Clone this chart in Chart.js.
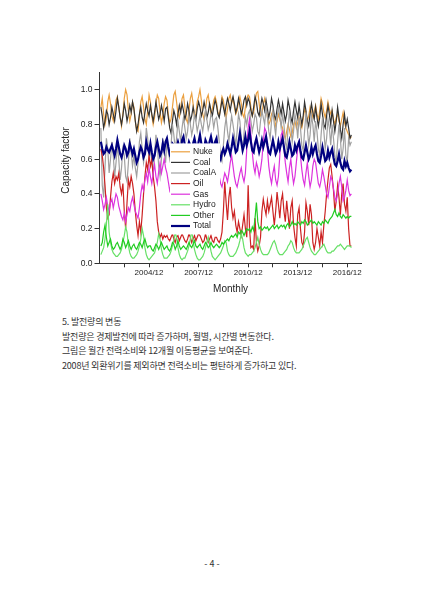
<!DOCTYPE html>
<html>
<head>
<meta charset="utf-8">
<script src="https://cdn.jsdelivr.net/npm/chart.js@4.4.0/dist/chart.umd.min.js"></script>
<style>
html, body { margin: 0; padding: 0; background: #fff; }
body { width: 424px; height: 599px; position: relative; overflow: hidden; }
#wrap { position: absolute; left: 0; top: 0; width: 424px; height: 305px; }
.txt { position: absolute; left: 62px; font-family: "Noto Sans CJK KR", sans-serif; font-size: 9px; letter-spacing: -0.2px; color: #333; white-space: nowrap; line-height: 12px; }
#pageNo { left: 0; width: 424px; text-align: center; letter-spacing: 0; }
</style>
</head>
<body>
<div id="wrap"><canvas id="cfChart"></canvas></div>
<div class="txt" style="top:316px">5. 발전량의 변동</div>
<div class="txt" style="top:330.5px">발전량은 경제발전에 따라 증가하며, 월별, 시간별 변동한다.</div>
<div class="txt" style="top:345px">그림은 월간 전력소비와 12개월 이동평균을 보여준다.</div>
<div class="txt" style="top:359.5px">2008년 외환위기를 제외하면 전력소비는 평탄하게 증가하고 있다.</div>
<div class="txt" id="pageNo" style="top:558px">- 4 -</div>

<script>
// Data (monthly, 2002/01 .. 2017/03)
const firstMonth = '2002/01';
const seriesNames = ['Nuke', 'Coal', 'CoalA', 'Oil', 'Gas', 'Hydro', 'Other', 'Total'];
const tickLabels = ['2004/12', '2007/12', '2010/12', '2013/12', '2016/12'];
const minorTickLabels = ['2003/06', '2006/06', '2009/06', '2012/06', '2015/06'];
const yTickValues = [0, 0.2, 0.4, 0.6, 0.8, 1.0];

const nuke = [
  0.90,0.95,0.86,0.80,0.84,0.93,0.97,0.92,0.85,0.82,0.88,0.94,
  0.96,0.90,0.84,0.79,0.86,0.95,1.00,0.97,0.88,0.82,0.86,0.93,
  0.90,0.82,0.77,0.76,0.85,0.93,0.96,0.90,0.83,0.80,0.88,0.97,
  0.93,0.85,0.80,0.84,0.92,0.97,0.95,0.87,0.81,0.85,0.92,0.96,
  0.94,0.86,0.81,0.83,0.90,0.97,0.99,0.93,0.86,0.84,0.90,0.95,
  0.97,0.90,0.83,0.81,0.88,0.95,0.98,0.92,0.84,0.86,0.93,0.96,
  1.00,0.94,0.86,0.83,0.88,0.95,0.97,0.91,0.86,0.89,0.94,0.96,
  0.93,0.87,0.85,0.90,0.96,0.94,0.88,0.84,0.89,0.95,0.97,0.92,
  0.95,0.90,0.86,0.88,0.93,0.96,0.92,0.86,0.84,0.90,0.95,0.97,
  0.96,0.90,0.85,0.87,0.93,0.98,0.99,0.92,0.85,0.86,0.92,0.95,
  0.90,0.84,0.80,0.82,0.86,0.88,0.84,0.79,0.82,0.86,0.83,0.80,
  0.78,0.74,0.72,0.76,0.80,0.77,0.73,0.75,0.80,0.82,0.78,0.81,
  0.84,0.80,0.78,0.83,0.89,0.86,0.82,0.85,0.90,0.87,0.84,0.88,
  0.91,0.86,0.83,0.88,0.95,0.92,0.87,0.84,0.88,0.93,0.89,0.86,
  0.88,0.83,0.80,0.84,0.86,0.82,0.79,0.83,0.87,0.81,0.78,0.76,
  0.74,0.72,0.73
];

const coal = [
  0.90,0.85,0.78,0.82,0.88,0.86,0.80,0.84,0.90,0.86,0.82,0.88,
  0.95,0.90,0.84,0.80,0.85,0.92,0.88,0.82,0.86,0.91,0.87,0.93,
  0.89,0.82,0.76,0.80,0.86,0.90,0.84,0.81,0.87,0.92,0.88,0.85,
  0.91,0.86,0.82,0.87,0.93,0.88,0.83,0.86,0.91,0.87,0.82,0.89,
  0.90,0.84,0.78,0.75,0.82,0.88,0.85,0.80,0.86,0.91,0.87,0.92,
  0.88,0.83,0.86,0.92,0.88,0.82,0.85,0.90,0.86,0.83,0.89,0.93,
  0.90,0.85,0.88,0.93,0.89,0.84,0.87,0.92,0.88,0.85,0.90,0.94,
  0.91,0.86,0.84,0.89,0.94,0.90,0.86,0.91,0.95,0.92,0.88,0.93,
  0.96,0.92,0.87,0.90,0.95,0.91,0.86,0.89,0.94,0.96,0.91,0.95,
  0.93,0.88,0.85,0.90,0.96,0.93,0.87,0.85,0.90,0.95,0.92,0.88,
  0.94,0.89,0.84,0.88,0.95,0.91,0.85,0.83,0.89,0.94,0.90,0.86,
  0.92,0.87,0.82,0.86,0.94,0.90,0.84,0.81,0.88,0.93,0.88,0.84,
  0.91,0.85,0.80,0.85,0.93,0.88,0.82,0.79,0.86,0.92,0.87,0.83,
  0.90,0.84,0.79,0.84,0.92,0.86,0.80,0.78,0.85,0.91,0.86,0.80,
  0.88,0.82,0.76,0.82,0.90,0.84,0.77,0.72,0.80,0.86,0.79,0.83,
  0.78,0.72,0.74
];

const coalA = [
  0.78,0.45,0.38,0.55,0.72,0.66,0.52,0.60,0.70,0.62,0.50,0.58,
  0.68,0.60,0.48,0.55,0.66,0.62,0.50,0.47,0.58,0.72,0.64,0.56,
  0.62,0.55,0.50,0.58,0.70,0.75,0.66,0.58,0.64,0.78,0.72,0.60,
  0.66,0.58,0.52,0.62,0.74,0.68,0.56,0.50,0.60,0.72,0.66,0.58,
  0.70,0.64,0.60,0.68,0.80,0.74,0.66,0.72,0.82,0.76,0.70,0.78,
  0.84,0.78,0.72,0.76,0.85,0.80,0.74,0.78,0.86,0.82,0.76,0.80,
  0.85,0.80,0.76,0.82,0.88,0.83,0.77,0.80,0.86,0.84,0.78,0.83,
  0.84,0.78,0.70,0.62,0.59,0.68,0.78,0.84,0.76,0.70,0.78,0.85,
  0.80,0.74,0.68,0.76,0.86,0.82,0.72,0.66,0.75,0.84,0.80,0.86,
  0.88,0.82,0.76,0.80,0.86,0.84,0.76,0.74,0.82,0.88,0.84,0.80,
  0.90,0.84,0.76,0.72,0.82,0.88,0.80,0.74,0.84,0.90,0.85,0.78,
  0.86,0.80,0.70,0.66,0.78,0.88,0.80,0.70,0.76,0.86,0.82,0.72,
  0.84,0.78,0.68,0.65,0.76,0.87,0.78,0.68,0.74,0.85,0.80,0.70,
  0.82,0.76,0.66,0.62,0.74,0.84,0.76,0.66,0.72,0.83,0.78,0.68,
  0.80,0.72,0.62,0.58,0.70,0.80,0.72,0.60,0.66,0.78,0.62,0.58,
  0.72,0.68,0.70
];

const oil = [
  0.66,0.62,0.55,0.45,0.32,0.26,0.28,0.38,0.47,0.52,0.46,0.50,
  0.48,0.52,0.44,0.40,0.46,0.30,0.20,0.35,0.48,0.44,0.50,0.46,
  0.40,0.30,0.22,0.16,0.24,0.18,0.28,0.40,0.50,0.58,0.54,0.62,
  0.56,0.60,0.50,0.44,0.36,0.24,0.18,0.15,0.17,0.14,0.16,0.15,
  0.16,0.14,0.13,0.15,0.17,0.14,0.12,0.15,0.16,0.13,0.15,0.17,
  0.15,0.13,0.12,0.14,0.17,0.15,0.12,0.14,0.16,0.13,0.15,0.17,
  0.16,0.14,0.12,0.13,0.17,0.14,0.12,0.14,0.16,0.13,0.12,0.15,
  0.15,0.13,0.12,0.14,0.18,0.30,0.47,0.35,0.25,0.38,0.44,0.32,
  0.26,0.30,0.22,0.18,0.24,0.20,0.16,0.22,0.28,0.20,0.15,0.45,
  0.20,0.09,0.10,0.08,0.26,0.12,0.07,0.10,0.15,0.30,0.37,0.32,
  0.28,0.36,0.30,0.34,0.38,0.30,0.22,0.30,0.41,0.34,0.26,0.36,
  0.40,0.30,0.24,0.36,0.28,0.20,0.32,0.36,0.22,0.15,0.10,0.28,
  0.32,0.20,0.12,0.10,0.18,0.35,0.30,0.22,0.34,0.28,0.12,0.08,
  0.12,0.20,0.15,0.10,0.18,0.12,0.22,0.30,0.40,0.48,0.55,0.57,
  0.50,0.42,0.30,0.36,0.45,0.38,0.28,0.40,0.46,0.34,0.30,0.38,
  0.20,0.10,0.10
];

const gas = [
  0.40,0.36,0.31,0.34,0.38,0.33,0.30,0.35,0.37,0.32,0.36,0.40,
  0.38,0.33,0.30,0.27,0.25,0.29,0.24,0.28,0.32,0.30,0.35,0.38,
  0.34,0.30,0.28,0.26,0.32,0.40,0.45,0.42,0.48,0.52,0.47,0.55,
  0.50,0.46,0.52,0.57,0.50,0.46,0.53,0.58,0.52,0.56,0.60,0.55,
  0.52,0.47,0.42,0.45,0.52,0.56,0.50,0.46,0.50,0.55,0.48,0.52,
  0.55,0.50,0.45,0.48,0.56,0.60,0.54,0.48,0.52,0.58,0.52,0.56,
  0.58,0.52,0.47,0.50,0.57,0.62,0.56,0.50,0.54,0.60,0.54,0.58,
  0.58,0.54,0.50,0.46,0.44,0.48,0.52,0.50,0.47,0.52,0.58,0.62,
  0.56,0.50,0.46,0.44,0.48,0.52,0.55,0.50,0.47,0.52,0.66,0.78,
  0.83,0.74,0.64,0.56,0.52,0.58,0.55,0.50,0.54,0.60,0.70,0.78,
  0.76,0.66,0.56,0.50,0.46,0.52,0.56,0.48,0.45,0.50,0.62,0.74,
  0.76,0.66,0.58,0.52,0.47,0.55,0.60,0.52,0.46,0.50,0.58,0.66,
  0.70,0.62,0.54,0.48,0.45,0.52,0.58,0.50,0.44,0.48,0.56,0.60,
  0.58,0.52,0.46,0.44,0.48,0.54,0.50,0.45,0.40,0.38,0.44,0.50,
  0.48,0.43,0.38,0.36,0.40,0.46,0.50,0.44,0.36,0.38,0.42,0.48,
  0.42,0.39,0.40
];

const hydro = [
  0.05,0.07,0.09,0.14,0.22,0.34,0.18,0.12,0.08,0.06,0.05,0.04,
  0.04,0.05,0.06,0.08,0.12,0.16,0.21,0.18,0.10,0.06,0.04,0.03,
  0.03,0.04,0.05,0.07,0.10,0.14,0.20,0.16,0.09,0.05,0.03,0.02,
  0.03,0.04,0.05,0.06,0.09,0.12,0.17,0.14,0.08,0.05,0.03,0.03,
  0.03,0.04,0.05,0.07,0.10,0.13,0.18,0.15,0.09,0.05,0.03,0.02,
  0.03,0.03,0.05,0.07,0.10,0.14,0.19,0.13,0.08,0.05,0.03,0.02,
  0.02,0.03,0.04,0.06,0.09,0.12,0.15,0.11,0.07,0.04,0.03,0.02,
  0.03,0.04,0.05,0.06,0.08,0.10,0.13,0.12,0.07,0.05,0.04,0.04,
  0.04,0.05,0.06,0.08,0.10,0.13,0.17,0.14,0.09,0.06,0.05,0.04,
  0.05,0.05,0.06,0.07,0.09,0.12,0.15,0.11,0.08,0.06,0.05,0.05,
  0.05,0.05,0.06,0.08,0.10,0.12,0.13,0.11,0.08,0.06,0.05,0.05,
  0.05,0.06,0.07,0.08,0.10,0.11,0.13,0.12,0.09,0.07,0.06,0.06,
  0.06,0.07,0.08,0.10,0.12,0.14,0.15,0.12,0.09,0.07,0.06,0.05,
  0.05,0.06,0.07,0.08,0.09,0.10,0.11,0.09,0.07,0.06,0.06,0.06,
  0.07,0.07,0.08,0.09,0.10,0.10,0.11,0.10,0.09,0.08,0.09,0.10,
  0.10,0.10,0.09
];

const other = [
  0.10,0.12,0.18,0.22,0.15,0.10,0.12,0.14,0.10,0.08,0.09,0.11,
  0.12,0.10,0.08,0.10,0.14,0.12,0.09,0.11,0.13,0.10,0.08,0.10,
  0.11,0.09,0.08,0.10,0.12,0.11,0.09,0.12,0.14,0.11,0.09,0.10,
  0.10,0.08,0.07,0.09,0.11,0.10,0.08,0.10,0.12,0.10,0.08,0.09,
  0.10,0.08,0.07,0.09,0.12,0.11,0.08,0.10,0.13,0.10,0.08,0.09,
  0.10,0.09,0.08,0.10,0.12,0.10,0.09,0.11,0.13,0.10,0.09,0.10,
  0.11,0.09,0.08,0.10,0.12,0.11,0.09,0.10,0.12,0.10,0.09,0.10,
  0.11,0.10,0.09,0.10,0.12,0.11,0.12,0.13,0.14,0.13,0.15,0.16,
  0.15,0.16,0.17,0.15,0.18,0.17,0.19,0.18,0.16,0.18,0.20,0.19,
  0.20,0.18,0.21,0.19,0.26,0.35,0.24,0.20,0.21,0.19,0.20,0.21,
  0.20,0.21,0.19,0.20,0.21,0.22,0.20,0.21,0.22,0.20,0.21,0.22,
  0.21,0.22,0.20,0.22,0.23,0.21,0.22,0.24,0.22,0.23,0.22,0.24,
  0.23,0.22,0.24,0.23,0.25,0.24,0.22,0.23,0.24,0.25,0.23,0.24,
  0.23,0.22,0.24,0.23,0.22,0.24,0.23,0.25,0.24,0.23,0.25,0.26,
  0.27,0.29,0.31,0.28,0.27,0.29,0.27,0.26,0.28,0.27,0.26,0.27,
  0.26,0.27,0.27
];

const total = [
  0.70,0.66,0.63,0.64,0.67,0.65,0.64,0.66,0.68,0.65,0.62,0.66,
  0.71,0.67,0.63,0.61,0.64,0.68,0.66,0.62,0.64,0.69,0.66,0.63,
  0.66,0.62,0.58,0.60,0.64,0.67,0.65,0.61,0.63,0.70,0.66,0.64,
  0.69,0.64,0.60,0.62,0.67,0.70,0.66,0.62,0.64,0.69,0.65,0.70,
  0.72,0.67,0.63,0.65,0.69,0.68,0.65,0.67,0.70,0.67,0.64,0.71,
  0.73,0.68,0.64,0.66,0.70,0.68,0.66,0.69,0.72,0.68,0.65,0.70,
  0.74,0.69,0.65,0.66,0.71,0.69,0.66,0.70,0.73,0.69,0.66,0.70,
  0.72,0.66,0.62,0.60,0.64,0.66,0.63,0.65,0.69,0.66,0.63,0.67,
  0.72,0.68,0.64,0.65,0.70,0.75,0.70,0.65,0.68,0.73,0.68,0.71,
  0.76,0.70,0.65,0.64,0.69,0.72,0.68,0.64,0.67,0.71,0.67,0.70,
  0.73,0.68,0.64,0.63,0.67,0.71,0.67,0.63,0.65,0.70,0.66,0.69,
  0.72,0.67,0.62,0.61,0.65,0.70,0.66,0.62,0.63,0.68,0.65,0.68,
  0.70,0.65,0.61,0.60,0.64,0.68,0.64,0.60,0.62,0.67,0.63,0.66,
  0.68,0.63,0.59,0.58,0.62,0.67,0.63,0.59,0.60,0.65,0.61,0.64,
  0.66,0.61,0.57,0.56,0.59,0.63,0.58,0.55,0.54,0.59,0.56,0.58,
  0.55,0.53,0.54
];

const seriesValues = [nuke, coal, coalA, oil, gas, hydro, other, total];
const seriesColors = ['#eba040', '#333333', '#a0a0a0', '#cc2222', '#dd33dd', '#66e066', '#22cc22', '#000080'];

// month label 'YYYY/MM' -> month number counted from firstMonth
function monthIndex(label) {
    const [y, m] = label.split('/').map(Number);
    const [y0, m0] = firstMonth.split('/').map(Number);
    return (y - y0) * 12 + (m - m0);
}

const majorIdx = tickLabels.map(monthIndex);
const minorIdx = minorTickLabels.map(monthIndex);
const xTickIdx = [...minorIdx, ...majorIdx].sort((a, b) => a - b);

const FONT = '"Liberation Sans", Arial, sans-serif';
const TXT = '#222';

const datasets = seriesNames.map((name, i) => ({
    label: name,
    data: seriesValues[i].map((v, k) => ({ x: k, y: v })),
    borderColor: seriesColors[i],
    backgroundColor: seriesColors[i],
    borderWidth: name === 'Total' ? 2.2 : 1.2,
    pointRadius: 0,
    tension: 0,
    fill: false,
    order: seriesNames.length - i
}));

// Legend box inside the plot (white background hides the lines behind it)
const boxLegend = {
    id: 'boxLegend',
    afterDatasetsDraw(chart) {
        const { ctx, chartArea: a } = chart;
        const bx = a.left + 70.5, by = a.top + 71, bw = 50, bh = 91;
        ctx.save();
        ctx.fillStyle = '#fff';
        ctx.fillRect(bx, by, bw, bh);
        ctx.font = '8.5px ' + FONT;
        ctx.textBaseline = 'middle';
        ctx.textAlign = 'left';
        chart.data.datasets.forEach((ds, i) => {
            const yy = by + 8.4 + i * 10.6;
            ctx.strokeStyle = ds.borderColor;
            ctx.lineWidth = ds.borderWidth;
            ctx.beginPath();
            ctx.moveTo(bx + 1, yy);
            ctx.lineTo(bx + 20, yy);
            ctx.stroke();
            ctx.fillStyle = TXT;
            ctx.fillText(ds.label, bx + 23, yy);
        });
        ctx.restore();
    },
    afterDraw(chart) {
        const { ctx, chartArea: a } = chart;
        ctx.save();
        ctx.fillStyle = TXT;
        ctx.font = '10px ' + FONT;
        ctx.textAlign = 'center';
        ctx.textBaseline = 'middle';
        ctx.fillText('Monthly', (a.left + a.right) / 2, a.bottom + 26);
        ctx.translate(a.left - 33.5, a.top + 88);
        ctx.rotate(-Math.PI / 2);
        ctx.fillText('Capacity factor', 0, 0);
        ctx.restore();
    }
};

const chart = new Chart(document.getElementById('cfChart'), {
    type: 'line',
    data: { datasets },
    options: {
        responsive: true,
        maintainAspectRatio: false,
        animation: false,
        layout: { padding: { left: 60, right: 62.3, top: 72.4, bottom: 0 } },
        plugins: { legend: { display: false }, tooltip: { enabled: false } },
        scales: {
            x: {
                type: 'linear',
                min: -1,
                max: 189.5,
                afterBuildTicks: s => { s.ticks = xTickIdx.map(v => ({ value: v })); },
                afterFit: s => { s.height = 41.7; },
                ticks: {
                    autoSkip: false,
                    maxRotation: 0,
                    padding: 1,
                    color: TXT,
                    font: { family: FONT, size: 8 },
                    callback: v => {
                        const k = majorIdx.indexOf(v);
                        return k >= 0 ? tickLabels[k] : '';
                    }
                },
                grid: { drawOnChartArea: false, drawTicks: true, tickLength: 4, color: '#333' },
                border: { color: '#333', width: 1 }
            },
            y: {
                min: 0,
                max: 1.1,
                afterBuildTicks: s => { s.ticks = yTickValues.map(v => ({ value: v })); },
                afterFit: s => { s.width = 39.5; },
                ticks: {
                    padding: 2,
                    color: TXT,
                    font: { family: FONT, size: 8.5 },
                    callback: v => v.toFixed(1)
                },
                grid: { drawOnChartArea: false, drawTicks: true, tickLength: 5, color: '#333' },
                border: { color: '#333', width: 1 }
            }
        }
    },
    plugins: [boxLegend]
});
</script>
</body>
</html>
